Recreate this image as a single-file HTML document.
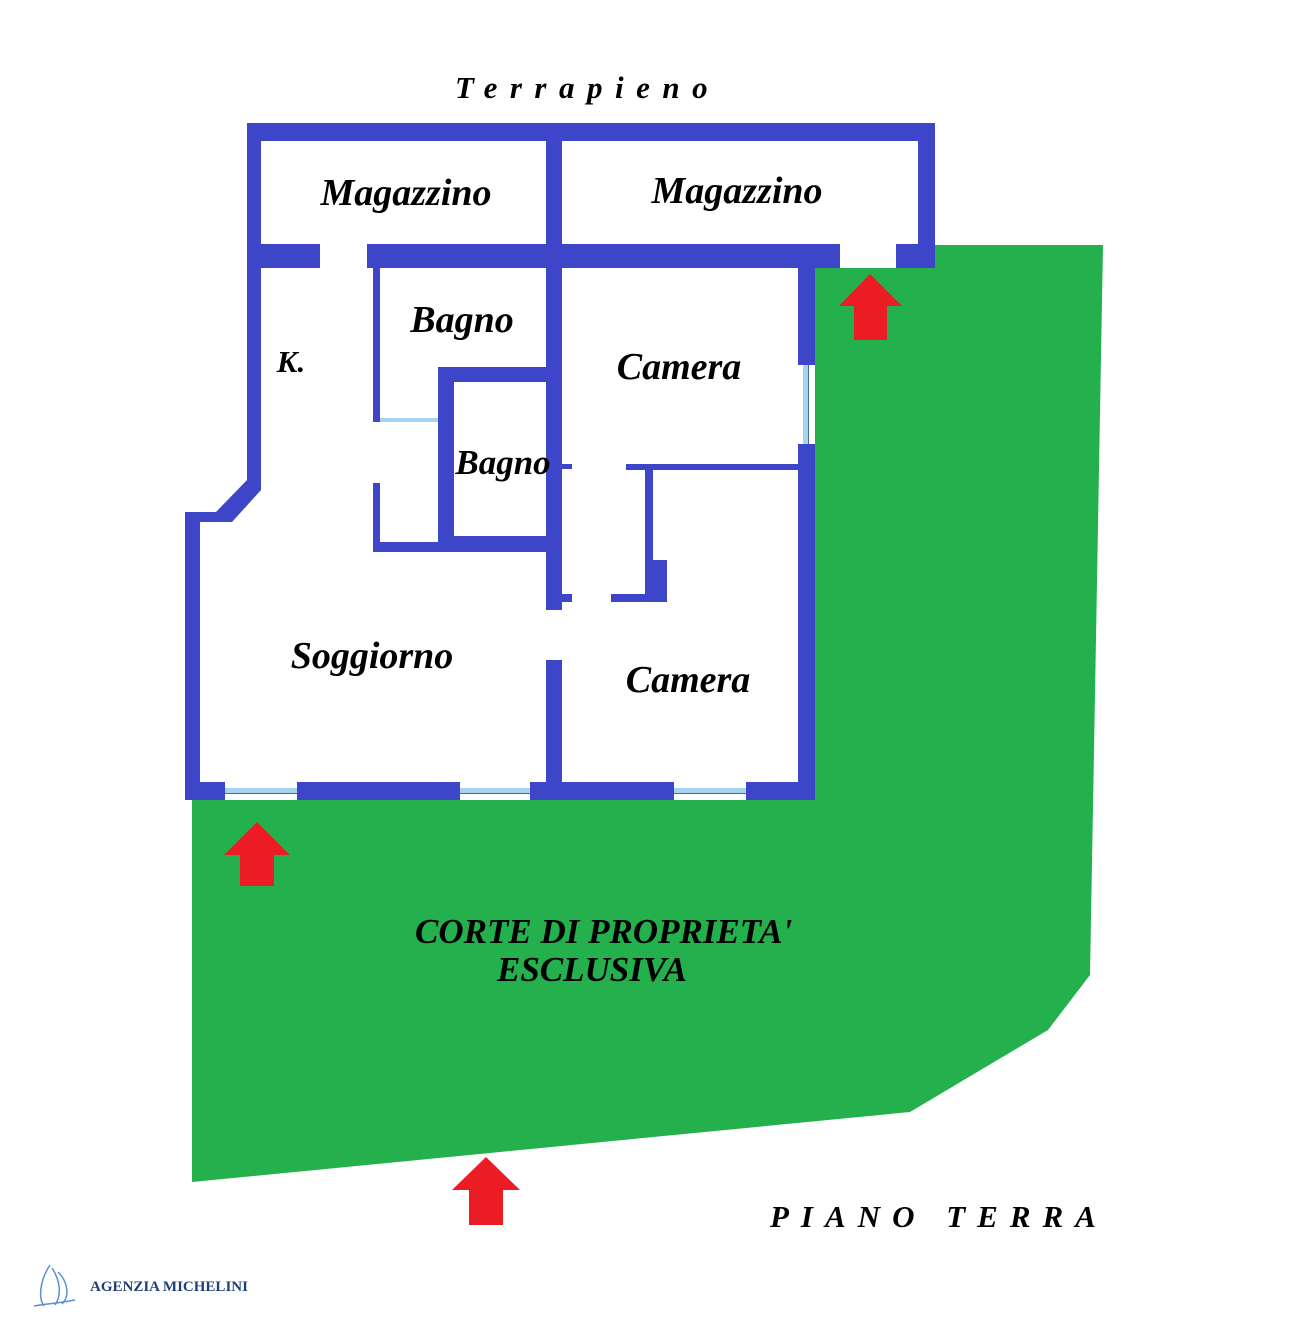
<!DOCTYPE html>
<html><head><meta charset="utf-8"><style>
html,body{margin:0;padding:0;background:#fff;}
svg{display:block}
text{font-family:"Liberation Serif",serif;font-weight:bold;font-style:italic;fill:#000}
text.logo{font-style:normal;fill:#1f3f7a}
</style></head><body>
<svg width="1290" height="1325" viewBox="0 0 1290 1325" xmlns="http://www.w3.org/2000/svg">
<polygon fill="#24b04c" points="192,800 815,800 815,268 935,268 935,245 1103,245 1090,975 1048,1030 910,1112 192,1182"/>
<g fill="#3d46c9">
<rect x="247" y="123" width="688" height="18"/>
<rect x="247" y="123" width="14" height="366"/>
<rect x="918" y="123" width="17" height="145"/>
<rect x="546" y="123" width="16" height="487"/>
<rect x="247" y="244" width="73" height="24"/>
<rect x="367" y="244" width="473" height="24"/>
<rect x="896" y="244" width="39" height="24"/>
<polygon points="247,480 261,480 261,490 232,522 200,522 200,512 216,512"/>
<rect x="185" y="512" width="15" height="288"/>
<rect x="185" y="782" width="40" height="18"/>
<rect x="297" y="782" width="163" height="18"/>
<rect x="530" y="782" width="144" height="18"/>
<rect x="746" y="782" width="69" height="18"/>
<rect x="798" y="244" width="17" height="121"/>
<rect x="798" y="444" width="17" height="356"/>
<rect x="373" y="268" width="7" height="154"/>
<rect x="373" y="483" width="7" height="69"/>
<rect x="373" y="542" width="189" height="10"/>
<rect x="438" y="367" width="124" height="15"/>
<rect x="438" y="367" width="16" height="185"/>
<rect x="438" y="536" width="124" height="16"/>
<rect x="553" y="367" width="9" height="100"/>
<rect x="546" y="530" width="16" height="80"/>
<rect x="546" y="660" width="16" height="140"/>
<rect x="562" y="464" width="10" height="5"/>
<rect x="626" y="464" width="172" height="6"/>
<rect x="645" y="469" width="8" height="131"/>
<rect x="653" y="560" width="14" height="42"/>
<rect x="562" y="594" width="10" height="8"/>
<rect x="611" y="594" width="56" height="8"/>
</g>
<g fill="#a6d3ee">
<rect x="225" y="788" width="72" height="5"/>
<rect x="460" y="788" width="70" height="5"/>
<rect x="674" y="788" width="72" height="5"/>
<rect x="803" y="365" width="5" height="79"/>
<rect x="380" y="418" width="58" height="4"/>
</g>
<g fill="#4a6a9a">
<rect x="225" y="793" width="72" height="1"/>
<rect x="460" y="793" width="70" height="1"/>
<rect x="674" y="793" width="72" height="1"/>
<rect x="808" y="365" width="1" height="79"/>
</g>
<g fill="#ec1c24">
<polygon points="870,274 902,306 887,306 887,340 854,340 854,306 839,306"/>
<polygon points="257,822 290,855 274,855 274,886 240,886 240,855 224,855"/>
<polygon points="486,1157 520,1190 503,1190 503,1225 469,1225 469,1190 452,1190"/>
</g>
<text x="455" y="98" font-size="31" letter-spacing="12.5">Terrapieno</text>
<text x="406" y="205" font-size="38" text-anchor="middle">Magazzino</text>
<text x="737" y="203" font-size="38" text-anchor="middle">Magazzino</text>
<text x="462" y="332" font-size="38" text-anchor="middle">Bagno</text>
<text x="291" y="372" font-size="31" text-anchor="middle">K.</text>
<text x="679" y="379" font-size="38" text-anchor="middle">Camera</text>
<text x="503" y="474" font-size="35" text-anchor="middle">Bagno</text>
<text x="372" y="668" font-size="38" text-anchor="middle">Soggiorno</text>
<text x="688" y="692" font-size="38" text-anchor="middle">Camera</text>
<text x="415" y="943" font-size="35">CORTE DI PROPRIETA'</text>
<text x="497" y="981" font-size="35">ESCLUSIVA</text>
<text x="770" y="1227" font-size="31" letter-spacing="12">PIANO TERRA</text>
<g fill="none" stroke="#5b8fd0" stroke-width="1.5">
<path d="M50,1265 C40,1280 38,1298 44,1306"/>
<path d="M52,1268 C60,1280 62,1295 55,1305"/>
<path d="M58,1272 C68,1282 70,1296 62,1304"/>
<path d="M34,1306 C45,1304 60,1303 75,1300"/>
</g>
<text class="logo" x="90" y="1291" font-size="15">AGENZIA MICHELINI</text>
</svg>
</body></html>
